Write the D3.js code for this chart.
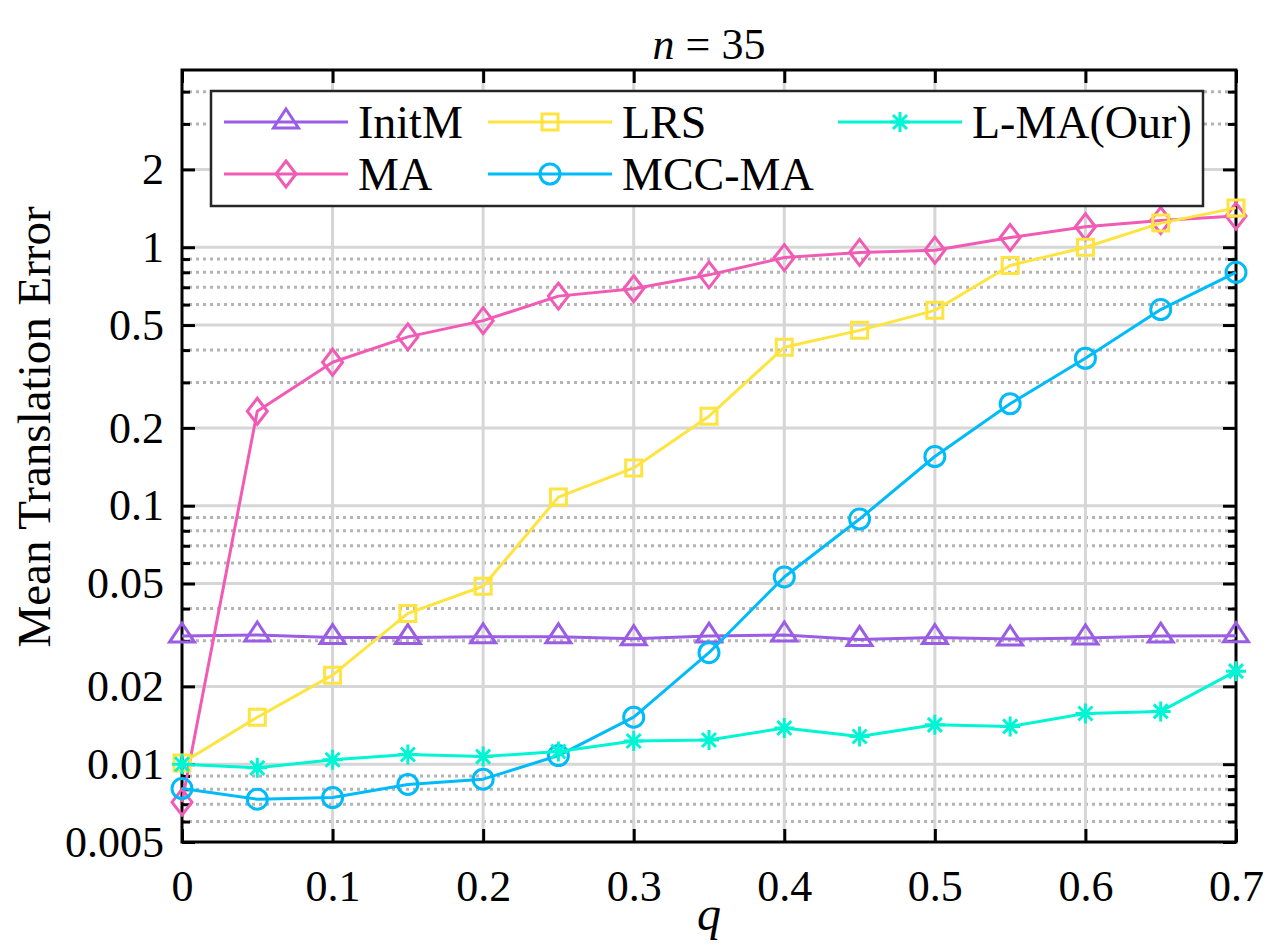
<!DOCTYPE html>
<html>
<head>
<meta charset="utf-8">
<script src="https://cdn.jsdelivr.net/npm/d3@7"></script>
<style>
  body { margin: 0; background: #fff; }
  svg { display: block; }
  .grid-major { stroke: #d6d6d6; stroke-width: 3; }
  .grid-minor { stroke: #b4b4b4; stroke-width: 3; stroke-dasharray: 3,4; }
  .axis line { stroke: #000; stroke-width: 3; }
</style>
</head>
<body>
<script>
var qValues = [0, 0.05, 0.1, 0.15, 0.2, 0.25, 0.3, 0.35, 0.4, 0.45, 0.5, 0.55, 0.6, 0.65, 0.7];

var initM = [0.0313, 0.0316, 0.0309, 0.0309, 0.0311, 0.0311, 0.0306, 0.0313, 0.0316, 0.0304, 0.0309, 0.0305, 0.0308, 0.0313, 0.0314];
var ma    = [0.00713, 0.232, 0.359, 0.45, 0.52, 0.647, 0.691, 0.782, 0.912, 0.955, 0.974, 1.09, 1.20, 1.27, 1.32];
var lrs   = [0.0101, 0.0152, 0.0221, 0.0383, 0.0488, 0.108, 0.140, 0.222, 0.410, 0.477, 0.570, 0.85, 1.0, 1.24, 1.42];
var mccMa = [0.00805, 0.00732, 0.00743, 0.00835, 0.00875, 0.0108, 0.0152, 0.0270, 0.0530, 0.0888, 0.155, 0.248, 0.372, 0.574, 0.80];
var lMa   = [0.0100, 0.00968, 0.0104, 0.0109, 0.0107, 0.0112, 0.0123, 0.0124, 0.0138, 0.0128, 0.0142, 0.0140, 0.0157, 0.0160, 0.0229];

var seriesNames = ["InitM", "MA", "LRS", "MCC-MA", "L-MA(Our)"];
var seriesColors = ["#9b5de5", "#f15bb5", "#fee440", "#00bbf9", "#00f5d4"];
var seriesMarkers = ["triangle", "diamond", "square", "circle", "asterisk"];

var xTicks = [0, 0.1, 0.2, 0.3, 0.4, 0.5, 0.6, 0.7];
var yMajorTicks = [0.005, 0.01, 0.02, 0.05, 0.1, 0.2, 0.5, 1, 2];
var yMinorTicks = [0.006, 0.007, 0.008, 0.009, 0.03, 0.04, 0.06, 0.07, 0.08, 0.09,
                   0.3, 0.4, 0.6, 0.7, 0.8, 0.9, 3, 4];

var serif = '"Liberation Serif", "Times New Roman", Times, serif';

var margin = {top: 70, right: 40, bottom: 103, left: 182},
  width = 1276 - margin.left - margin.right,
  height = 945 - margin.top - margin.bottom;

var x = d3.scaleLinear().domain([0, 0.7]).range([0, width]);
var y = d3.scaleLog().domain([0.005, 4.85]).range([height, 0]);

var svg = d3.select("body").append("svg")
  .attr("width", 1276)
  .attr("height", 945)
  .attr("font-family", serif);

var g = svg.append("g")
  .attr("transform", "translate(" + margin.left + "," + margin.top + ")");

// grid
g.selectAll(".grid-minor")
  .data(yMinorTicks)
  .enter().append("line")
  .attr("class", "grid-minor")
  .attr("x1", 0).attr("x2", width)
  .attr("y1", function(d) { return y(d); })
  .attr("y2", function(d) { return y(d); });

g.selectAll(".grid-major.h")
  .data(yMajorTicks.slice(1))
  .enter().append("line")
  .attr("class", "grid-major h")
  .attr("x1", 0).attr("x2", width)
  .attr("y1", function(d) { return y(d); })
  .attr("y2", function(d) { return y(d); });

g.selectAll(".grid-major.v")
  .data(xTicks.slice(1, -1))
  .enter().append("line")
  .attr("class", "grid-major v")
  .attr("y1", 0).attr("y2", height)
  .attr("x1", function(d) { return x(d); })
  .attr("x2", function(d) { return x(d); });

// axes with inward ticks
var fmt = function(d) { return String(d); };

function styleAxis(sel) {
  sel.attr("font-family", serif).attr("font-size", 44);
  sel.selectAll("text").style("font-family", serif).style("font-size", "44px").attr("fill", "#000");
  sel.select(".domain").remove();
}

g.append("g").attr("class", "axis")
  .attr("transform", "translate(0," + height + ")")
  .call(d3.axisBottom(x).tickValues(xTicks).tickSizeInner(-13).tickSizeOuter(0).tickPadding(28).tickFormat(fmt))
  .call(styleAxis);

g.append("g").attr("class", "axis")
  .call(d3.axisTop(x).tickValues(xTicks).tickSizeInner(-13).tickSizeOuter(0).tickFormat(""))
  .call(styleAxis);

g.append("g").attr("class", "axis")
  .call(d3.axisLeft(y).tickValues(yMajorTicks).tickSizeInner(-13).tickSizeOuter(0).tickPadding(18).tickFormat(fmt))
  .call(styleAxis);
g.append("g").attr("class", "axis")
  .call(d3.axisLeft(y).tickValues(yMinorTicks).tickSizeInner(-8).tickSizeOuter(0).tickFormat(""))
  .call(styleAxis);
g.append("g").attr("class", "axis")
  .attr("transform", "translate(" + width + ",0)")
  .call(d3.axisRight(y).tickValues(yMajorTicks).tickSizeInner(-13).tickSizeOuter(0).tickFormat(""))
  .call(styleAxis);
g.append("g").attr("class", "axis")
  .attr("transform", "translate(" + width + ",0)")
  .call(d3.axisRight(y).tickValues(yMinorTicks).tickSizeInner(-8).tickSizeOuter(0).tickFormat(""))
  .call(styleAxis);

g.append("rect")
  .attr("x", 0).attr("y", 0)
  .attr("width", width).attr("height", height)
  .attr("fill", "none")
  .attr("stroke", "#000")
  .attr("stroke-width", 3);

// markers
function markerPath(type) {
  if (type === "triangle") return "M0,-13L12.5,6L-12.5,6Z";
  if (type === "diamond") return "M0,-13L10,0L0,13L-10,0Z";
  if (type === "square") return "M-8,-8L8,-8L8,8L-8,8Z";
  if (type === "circle") return "M10,0A10,10 0 1,1 -10,0A10,10 0 1,1 10,0Z";
  // asterisk: plus and cross
  return "M0,-10L0,10M-10,0L10,0M-7,-7L7,7M-7,7L7,-7";
}

var allSeries = [initM, ma, lrs, mccMa, lMa];

var line = d3.line()
  .x(function(d, i) { return x(qValues[i]); })
  .y(function(d) { return y(d); });

allSeries.forEach(function(vals, k) {
  g.append("path")
    .datum(vals)
    .attr("fill", "none")
    .attr("stroke", seriesColors[k])
    .attr("stroke-width", 3)
    .attr("stroke-linejoin", "round")
    .attr("d", line);

  g.selectAll(".mk" + k)
    .data(vals)
    .enter().append("path")
    .attr("class", "mk" + k)
    .attr("transform", function(d, i) { return "translate(" + x(qValues[i]) + "," + y(d) + ")"; })
    .attr("d", markerPath(seriesMarkers[k]))
    .attr("fill", "none")
    .attr("stroke", seriesColors[k])
    .attr("stroke-width", 3);
});

// title and labels
var title = svg.append("text")
  .attr("x", margin.left + width / 2)
  .attr("y", 59)
  .attr("text-anchor", "middle")
  .style("font-family", serif)
  .style("font-size", "44px");
title.append("tspan").style("font-style", "italic").text("n");
title.append("tspan").text(" = 35");

svg.append("text")
  .attr("x", margin.left + width / 2)
  .attr("y", 930)
  .attr("text-anchor", "middle")
  .style("font-family", serif)
  .style("font-size", "48px")
  .style("font-style", "italic")
  .text("q");

svg.append("text")
  .attr("transform", "translate(50," + 427 + ") rotate(-90)")
  .attr("text-anchor", "middle")
  .style("font-family", serif)
  .style("font-size", "47px")
  .text("Mean Translation Error");

// legend
var legendCols = [224, 488, 838];
var legendRows = [122, 174];

var legend = svg.append("g").attr("class", "legend");
legend.append("rect")
  .attr("x", 211).attr("y", 91)
  .attr("width", 992).attr("height", 115)
  .attr("fill", "#fff")
  .attr("stroke", "#262626")
  .attr("stroke-width", 2.5);

seriesNames.forEach(function(name, k) {
  var lx = legendCols[Math.floor(k / 2)];
  var ly = legendRows[k % 2];
  var item = legend.append("g").attr("transform", "translate(" + lx + "," + ly + ")");
  item.append("line")
    .attr("x1", 0).attr("x2", 124)
    .attr("y1", 0).attr("y2", 0)
    .attr("stroke", seriesColors[k])
    .attr("stroke-width", 3);
  item.append("path")
    .attr("transform", "translate(62,0)")
    .attr("d", markerPath(seriesMarkers[k]))
    .attr("fill", "none")
    .attr("stroke", seriesColors[k])
    .attr("stroke-width", 3);
  item.append("text")
    .attr("x", 134)
    .attr("y", 16)
    .style("font-family", serif)
    .style("font-size", "46px")
    .text(name);
});
</script>
</body>
</html>
